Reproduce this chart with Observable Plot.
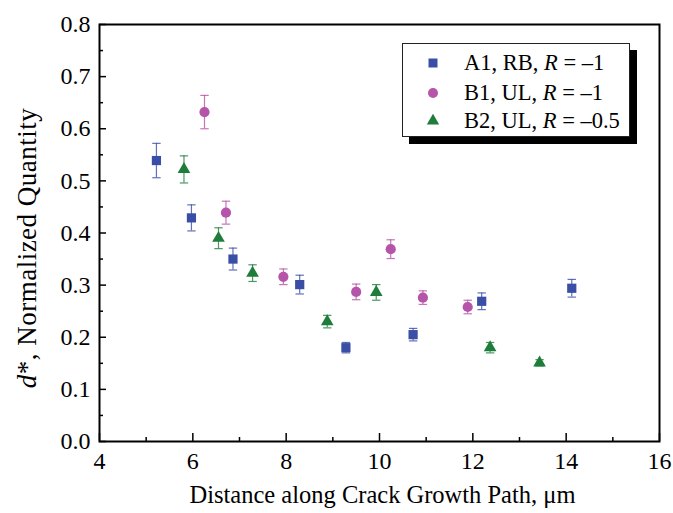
<!DOCTYPE html>
<html>
<head>
<meta charset="utf-8">
<script src="https://cdn.jsdelivr.net/npm/d3@7"></script>
<script src="https://cdn.jsdelivr.net/npm/@observablehq/plot@0.6"></script>
<style>
  html, body { margin: 0; padding: 0; background: #fff; }
  #wrap { position: relative; width: 673px; height: 513px; font-family: "Liberation Serif", "Times New Roman", serif; }
  #legend { position: absolute; left: 402px; top: 43px; width: 226px; height: 92px; border: 1px solid #222; background: #fff; box-shadow: 7px 7px 0 #000; }
  #legend .row { position: absolute; left: 0; width: 226px; height: 28px; font-size: 22.5px; line-height: 28px; color: #000; }
  #legend .row svg { position: absolute; left: 21px; top: 5px; }
  #legend .row span { position: absolute; left: 61px; top: 0; white-space: nowrap; }
</style>
</head>
<body>
<div id="wrap"></div>
<script>
// ---- data ----
const seriesNames = ["A1, RB, R = \u20131", "B1, UL, R = \u20131", "B2, UL, R = \u20130.5"];
const seriesColors = ["#3a4ea6", "#b554a8", "#1f7d3b"];
const seriesSymbols = ["square", "circle", "triangle"];

const a1X = [5.22, 5.97, 6.86, 8.29, 9.28, 10.72, 12.19, 14.12];
const a1Y = [0.539, 0.429, 0.350, 0.301, 0.180, 0.205, 0.269, 0.294];
const a1E = [0.033, 0.025, 0.021, 0.018, 0.010, 0.012, 0.016, 0.017];

const b1X = [6.25, 6.71, 7.94, 9.50, 10.24, 10.93, 11.89];
const b1Y = [0.632, 0.439, 0.316, 0.287, 0.369, 0.276, 0.258];
const b1E = [0.032, 0.022, 0.015, 0.015, 0.018, 0.013, 0.013];

const b2X = [5.81, 6.55, 7.28, 8.88, 9.93, 12.37, 13.43];
const b2Y = [0.522, 0.390, 0.323, 0.230, 0.286, 0.180, 0.151];
const b2E = [0.026, 0.020, 0.016, 0.012, 0.015, 0.010, 0.006];

const xTicks = [4, 6, 8, 10, 12, 14, 16];
const xMinor = [5, 7, 9, 11, 13, 15];
const yTicks = [0, 0.1, 0.2, 0.3, 0.4, 0.5, 0.6, 0.7, 0.8];
const yMinor = [0.05, 0.15, 0.25, 0.35, 0.45, 0.55, 0.65, 0.75];

const xLabel = "Distance along Crack Growth Path, \u03bcm";
const yLabel = "d*, Normalized Quantity";

// ---- build table ----
const raw = [[a1X, a1Y, a1E], [b1X, b1Y, b1E], [b2X, b2Y, b2E]];
const series = raw.map(([xs, ys, es], i) =>
  xs.map((x, j) => ({s: i, x, y: ys[j], e: es[j]})));

const cap = {draw(context) { context.moveTo(-4.2, 0); context.lineTo(4.2, 0); }};
const markerR = [5.2, 5.1, 4.7];

const marks = [];
series.forEach((rows, i) => {
  const c = seriesColors[i];
  marks.push(Plot.ruleX(rows, {x: "x", y1: d => d.y - d.e, y2: d => d.y + d.e, stroke: c, strokeWidth: 1.2, strokeOpacity: 0.8}));
  marks.push(Plot.dot(rows, {x: "x", y: d => d.y + d.e, symbol: cap, stroke: c, strokeWidth: 1.2, strokeOpacity: 0.8, r: 3}));
  marks.push(Plot.dot(rows, {x: "x", y: d => d.y - d.e, symbol: cap, stroke: c, strokeWidth: 1.2, strokeOpacity: 0.8, r: 3}));
});
series.forEach((rows, i) => {
  marks.push(Plot.dot(rows, {x: "x", y: "y", symbol: seriesSymbols[i], fill: seriesColors[i], stroke: "none", r: markerR[i]}));
});

const chart = Plot.plot({
  width: 673,
  height: 513,
  marginLeft: 99,
  marginRight: 14,
  marginTop: 24,
  marginBottom: 72,
  style: {fontFamily: "'Liberation Serif', 'Times New Roman', serif", fontSize: "24px", color: "#000", background: "#fff"},
  x: {domain: [4, 16]},
  y: {domain: [0, 0.8]},
  marks: [
    ...marks,
    Plot.axisX(xTicks, {tickSize: -8, tickPadding: 18, label: null, strokeWidth: 1.5, fontSize: 24}),
    Plot.axisX(xMinor, {tickSize: -4, tickFormat: () => "", label: null, strokeWidth: 1.5}),
    Plot.axisY(yTicks, {tickSize: -7, tickPadding: 16, tickFormat: d3.format(".1f"), label: null, strokeWidth: 1.5, fontSize: 24}),
    Plot.axisY(yMinor, {tickSize: -4, tickFormat: () => "", label: null, strokeWidth: 1.5}),
    Plot.frame({stroke: "#000", strokeWidth: 2}),
    Plot.text([xLabel], {frameAnchor: "bottom", dy: 54, dx: 3, lineAnchor: "middle", textAnchor: "middle", fontSize: 24.5, text: d => d}),
    Plot.text([yLabel], {frameAnchor: "left", dx: -72, dy: 15, rotate: -90, lineAnchor: "middle", textAnchor: "middle", fontSize: 27, text: d => d, className: "ytitle"})
  ]
});

// italic "d" in y title
d3.select(chart).selectAll(".ytitle text").each(function () {
  const t = d3.select(this);
  const s = t.text();
  t.text(null);
  t.attr("letter-spacing", "0.5px");
  t.append("tspan").attr("font-style", "italic").text(s.slice(0, 1));
  t.append("tspan").text(s.slice(1));
});

const wrap = document.getElementById("wrap");
wrap.appendChild(chart);

// legend (HTML overlay, inside plot frame)
const legend = document.createElement("div");
legend.id = "legend";
const rowTops = [5, 35, 63];
const symbolPaths = {
  square: d3.symbol(d3.symbolSquare, 81)(),
  circle: d3.symbol(d3.symbolCircle, 78)(),
  triangle: d3.symbol(d3.symbolTriangle, 66)()
};
seriesNames.forEach((name, i) => {
  const row = document.createElement("div");
  row.className = "row";
  row.style.top = rowTops[i] + "px";
  const m = name.match(/^(.*), R = (.*)$/);
  row.innerHTML =
    `<svg width="18" height="18" viewBox="-9 -9 18 18"><path d="${symbolPaths[seriesSymbols[i]]}" fill="${seriesColors[i]}"></path></svg>` +
    `<span>${m[1]}, <i>R</i> = ${m[2]}</span>`;
  legend.appendChild(row);
});
wrap.appendChild(legend);
</script>
</body>
</html>
